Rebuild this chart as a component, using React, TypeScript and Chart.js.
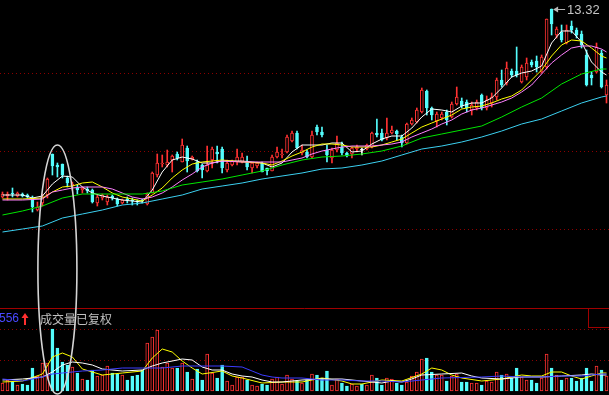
import { useEffect, useRef } from 'react';
import { Chart, registerables } from 'chart.js';

Chart.register(...registerables);

const W = 609;
const H = 395;
const UP = '#ff3232';
const DOWN = '#54fcfc';
const DOJI = '#ffffff';

const open = [9.56, 9.58, 9.64, 9.58, 9.62, 9.60, 9.54, 9.30, 9.44, 9.60,
  10.42, 10.20, 10.22, 9.94, 9.78, 9.74, 9.70, 9.72, 9.70, 9.44,
  9.54, 9.46, 9.58, 9.52, 9.44, 9.52, 9.50, 9.48, 9.50, 9.42,
  9.64, 10.00, 10.22, 10.20, 10.30, 10.42, 10.26, 10.54, 10.32, 10.26,
  10.20, 10.08, 10.30, 10.46, 10.52, 10.10, 10.20, 10.26, 10.26, 10.26,
  10.14, 10.18, 10.24, 10.14, 10.08, 10.36, 10.40, 10.46, 10.68, 10.84,
  10.44, 10.46, 10.36, 10.96, 10.86, 10.50, 10.34, 10.50, 10.56, 10.44,
  10.42, 10.52, 10.50, 10.52, 10.56, 10.84, 10.84, 10.74, 10.84, 10.88,
  10.76, 10.64, 11.02, 11.06, 11.26, 11.68, 11.34, 11.08, 11.14, 11.26,
  11.16, 11.42, 11.48, 11.46, 11.30, 11.34, 11.60, 11.34, 11.44, 11.56,
  11.90, 11.84, 12.08, 12.08, 11.86, 11.96, 12.26, 12.28, 12.06, 12.16,
  13.32, 12.80, 12.86, 12.64, 12.98, 12.90, 12.82, 12.40, 12.00, 12.06,
  12.44, 11.60];
const high = [9.66, 9.66, 9.74, 9.66, 9.64, 9.62, 9.58, 9.46, 9.62, 9.94,
  10.42, 10.24, 10.22, 9.98, 9.86, 9.80, 9.76, 9.76, 9.72, 9.60,
  9.62, 9.60, 9.60, 9.54, 9.52, 9.56, 9.54, 9.50, 9.52, 9.64,
  10.06, 10.42, 10.40, 10.50, 10.40, 10.46, 10.72, 10.58, 10.38, 10.30,
  10.22, 10.58, 10.56, 10.58, 10.56, 10.30, 10.30, 10.52, 10.44, 10.38,
  10.24, 10.26, 10.26, 10.14, 10.40, 10.56, 10.52, 10.80, 10.88, 10.88,
  10.60, 10.50, 10.88, 11.00, 10.96, 10.60, 10.54, 10.78, 10.66, 10.46,
  10.56, 10.60, 10.54, 10.62, 10.86, 11.12, 10.92, 11.14, 10.98, 10.90,
  10.80, 11.04, 11.14, 11.34, 11.74, 11.70, 11.36, 11.26, 11.26, 11.30,
  11.46, 11.76, 11.54, 11.50, 11.46, 11.50, 11.62, 11.58, 11.64, 11.94,
  12.10, 12.26, 12.12, 12.56, 12.20, 12.34, 12.30, 12.38, 12.40, 13.12,
  13.32, 12.96, 13.00, 13.00, 13.08, 12.94, 12.88, 12.50, 12.06, 12.64,
  12.50, 11.90];
const low = [9.54, 9.50, 9.56, 9.56, 9.56, 9.54, 9.26, 9.28, 9.38, 9.54,
  10.00, 9.96, 9.94, 9.76, 9.70, 9.62, 9.64, 9.64, 9.44, 9.38,
  9.50, 9.40, 9.50, 9.38, 9.42, 9.44, 9.40, 9.40, 9.44, 9.40,
  9.64, 9.96, 10.16, 10.16, 10.06, 10.30, 10.26, 10.06, 10.30, 10.06,
  9.94, 10.06, 10.14, 10.24, 10.04, 10.06, 10.18, 10.20, 10.24, 10.10,
  10.04, 10.14, 10.06, 10.00, 10.08, 10.34, 10.34, 10.44, 10.66, 10.52,
  10.40, 10.34, 10.34, 10.80, 10.76, 10.26, 10.24, 10.46, 10.40, 10.36,
  10.34, 10.46, 10.40, 10.50, 10.54, 10.76, 10.68, 10.70, 10.82, 10.70,
  10.56, 10.62, 11.00, 11.04, 11.24, 11.20, 11.10, 10.96, 11.10, 11.00,
  11.14, 11.40, 11.34, 11.26, 11.20, 11.30, 11.30, 11.30, 11.36, 11.50,
  11.76, 11.80, 11.96, 11.96, 11.84, 11.90, 12.16, 12.06, 12.04, 12.12,
  12.80, 12.74, 12.66, 12.62, 12.84, 12.74, 12.54, 11.78, 11.80, 12.04,
  11.74, 11.44];
const close = [9.62, 9.62, 9.62, 9.64, 9.58, 9.56, 9.36, 9.36, 9.56, 9.92,
  10.18, 10.16, 10.00, 9.84, 9.82, 9.70, 9.74, 9.68, 9.46, 9.56,
  9.60, 9.56, 9.54, 9.42, 9.50, 9.50, 9.48, 9.46, 9.48, 9.62,
  10.04, 10.24, 10.24, 10.26, 10.38, 10.34, 10.60, 10.28, 10.36, 10.08,
  10.10, 10.20, 10.52, 10.42, 10.14, 10.24, 10.28, 10.36, 10.36, 10.16,
  10.24, 10.24, 10.06, 10.08, 10.36, 10.46, 10.42, 10.76, 10.84, 10.54,
  10.50, 10.36, 10.80, 10.86, 10.80, 10.40, 10.50, 10.64, 10.44, 10.38,
  10.54, 10.56, 10.50, 10.60, 10.84, 10.80, 10.70, 10.84, 10.90, 10.82,
  10.64, 11.02, 11.10, 11.30, 11.70, 11.34, 11.20, 11.22, 11.22, 11.10,
  11.42, 11.56, 11.38, 11.34, 11.40, 11.46, 11.34, 11.50, 11.56, 11.90,
  11.80, 12.14, 12.00, 12.00, 12.16, 12.24, 12.20, 12.16, 12.36, 13.12,
  13.02, 12.92, 12.70, 12.90, 12.90, 12.80, 12.60, 11.80, 11.94, 12.56,
  11.76, 11.80];
const volume = [80, 110, 90, 60, 70, 60, 230, 150, 280, 280,
  620, 430, 290, 260, 240, 180, 120, 110, 210, 150,
  160, 250, 180, 170, 160, 110, 150, 160, 210, 480,
  540, 610, 240, 280, 230, 230, 280, 190, 120, 220,
  110, 370, 180, 130, 260, 100, 60, 140, 140, 110,
  60, 50, 70, 60, 120, 140, 70, 160, 120, 100,
  80, 110, 170, 160, 130, 200, 60, 120, 80, 50,
  70, 50, 70, 60, 160, 130, 60, 130, 120, 80,
  60, 90, 150, 190, 320, 330, 190, 160, 160, 100,
  150, 170, 90, 90, 80, 80, 60, 100, 90, 190,
  160, 170, 130, 230, 140, 110, 110, 80, 130, 370,
  230, 160, 110, 130, 130, 100, 130, 230, 100, 250,
  210, 150];

// moving-average readings: [candle index, value]
const ma5Pts = [[0, 9.60], [2, 9.60], [4, 9.60], [6, 9.54], [8, 9.58], [10, 9.82], [12, 9.98], [14, 9.96], [16, 9.76], [18, 9.64], [20, 9.58], [22, 9.54], [24, 9.50], [26, 9.48], [28, 9.46], [30, 9.70], [32, 10.06], [34, 10.30], [36, 10.36], [38, 10.32], [40, 10.24], [42, 10.24], [44, 10.28], [46, 10.28], [48, 10.28], [50, 10.26], [52, 10.24], [54, 10.16], [56, 10.24], [58, 10.46], [60, 10.60], [62, 10.60], [64, 10.60], [66, 10.64], [68, 10.64], [70, 10.46], [72, 10.48], [74, 10.62], [76, 10.72], [78, 10.78], [80, 10.78], [82, 10.94], [84, 11.16], [86, 11.32], [88, 11.30], [90, 11.26], [92, 11.38], [94, 11.44], [96, 11.44], [98, 11.54], [100, 11.74], [102, 11.96], [104, 12.04], [106, 12.08], [108, 12.18], [110, 12.64], [112, 12.88], [114, 12.88], [116, 12.66], [118, 12.26], [120, 12.06], [121, 12.00]];
const ma10Pts = [[0, 9.52], [4, 9.52], [8, 9.54], [10, 9.66], [12, 9.76], [14, 9.78], [16, 9.84], [18, 9.86], [20, 9.76], [22, 9.64], [24, 9.56], [26, 9.52], [28, 9.48], [30, 9.60], [32, 9.74], [34, 9.94], [36, 10.10], [38, 10.22], [40, 10.26], [44, 10.30], [48, 10.26], [52, 10.24], [54, 10.20], [56, 10.28], [58, 10.38], [60, 10.46], [62, 10.56], [64, 10.62], [66, 10.62], [68, 10.60], [70, 10.56], [72, 10.56], [74, 10.56], [76, 10.60], [78, 10.66], [80, 10.72], [82, 10.84], [84, 10.96], [86, 11.04], [88, 11.12], [90, 11.20], [92, 11.32], [94, 11.36], [96, 11.38], [98, 11.44], [100, 11.52], [102, 11.58], [104, 11.70], [106, 11.90], [108, 12.10], [110, 12.38], [112, 12.60], [114, 12.70], [116, 12.68], [118, 12.54], [120, 12.38], [121, 12.34]];
const ma20Pts = [[0, 9.50], [4, 9.50], [8, 9.52], [10, 9.66], [12, 9.70], [14, 9.74], [16, 9.76], [20, 9.76], [22, 9.72], [24, 9.64], [26, 9.56], [28, 9.52], [30, 9.56], [32, 9.64], [34, 9.76], [36, 9.90], [38, 10.02], [40, 10.16], [42, 10.24], [44, 10.28], [48, 10.26], [52, 10.26], [56, 10.26], [58, 10.30], [60, 10.34], [62, 10.42], [64, 10.48], [66, 10.52], [68, 10.56], [70, 10.58], [74, 10.58], [78, 10.62], [80, 10.66], [82, 10.76], [84, 10.84], [86, 10.92], [88, 11.02], [90, 11.10], [92, 11.22], [94, 11.30], [96, 11.34], [98, 11.40], [100, 11.46], [102, 11.54], [104, 11.66], [106, 11.80], [108, 12.02], [110, 12.24], [112, 12.40], [114, 12.54], [116, 12.58], [118, 12.58], [120, 12.52], [121, 12.46]];
const ma60Pts = [[0, 9.20], [4, 9.28], [8, 9.38], [12, 9.54], [16, 9.62], [20, 9.62], [24, 9.62], [28, 9.62], [32, 9.68], [36, 9.80], [40, 9.86], [44, 9.92], [48, 10.00], [52, 10.08], [56, 10.20], [60, 10.30], [64, 10.36], [68, 10.38], [72, 10.42], [76, 10.48], [80, 10.58], [84, 10.74], [88, 10.82], [92, 10.90], [96, 10.98], [100, 11.16], [104, 11.36], [108, 11.54], [112, 11.82], [116, 12.02], [120, 12.12], [121, 12.12]];
const ma120Pts = [[0, 8.86], [4, 8.92], [8, 8.98], [12, 9.14], [16, 9.22], [20, 9.30], [24, 9.40], [28, 9.44], [32, 9.52], [36, 9.60], [40, 9.72], [44, 9.78], [48, 9.84], [52, 9.92], [56, 9.98], [60, 10.04], [64, 10.12], [68, 10.14], [72, 10.20], [76, 10.28], [80, 10.40], [84, 10.52], [88, 10.58], [92, 10.66], [96, 10.76], [100, 10.88], [104, 11.02], [108, 11.12], [112, 11.28], [116, 11.44], [120, 11.56], [121, 11.58]];
const vma5Pts = [[0, 90], [4, 100], [8, 170], [10, 340], [12, 380], [14, 340], [16, 220], [20, 160], [24, 180], [28, 200], [30, 330], [32, 420], [34, 390], [36, 300], [38, 230], [40, 170], [44, 200], [46, 150], [48, 130], [52, 80], [56, 90], [60, 90], [64, 130], [68, 100], [70, 70], [72, 70], [76, 110], [80, 100], [84, 170], [86, 230], [88, 210], [90, 160], [92, 130], [96, 100], [100, 120], [104, 160], [106, 150], [108, 150], [110, 190], [112, 190], [114, 150], [116, 120], [118, 150], [120, 180], [121, 180]];
const vma10Pts = [[0, 110], [4, 120], [8, 140], [10, 190], [12, 260], [14, 290], [16, 280], [18, 260], [20, 220], [24, 200], [28, 210], [30, 250], [32, 280], [36, 320], [38, 310], [40, 240], [42, 210], [44, 210], [46, 170], [48, 150], [50, 140], [52, 110], [54, 90], [56, 90], [60, 110], [64, 120], [68, 120], [72, 100], [76, 80], [78, 100], [80, 90], [82, 120], [84, 160], [88, 170], [92, 180], [94, 150], [96, 130], [100, 120], [104, 140], [108, 140], [112, 150], [116, 160], [118, 170], [120, 160], [121, 160]];
const vma20Pts = [[0, 120], [4, 100], [8, 140], [10, 170], [12, 180], [16, 200], [20, 210], [24, 230], [28, 230], [32, 230], [36, 250], [40, 250], [44, 250], [48, 240], [50, 200], [52, 160], [54, 140], [56, 130], [60, 130], [64, 110], [68, 110], [72, 100], [76, 100], [80, 90], [84, 110], [88, 130], [96, 140], [100, 150], [104, 140], [108, 140], [112, 150], [116, 150], [120, 170], [121, 170]];

const priceGrid = [12.04, 10.48, 8.92];
const volGridDotted = [620, 310];
const volPanelTop = 830;
const priceRange = [5.6, 13.5];
const volRange = [-40, 3910];
const volValueLabel = '556';
const volTitle = '成交量已复权';
const circledIndex = 11;

const days = open.map((_, i) => `D${i + 1}`);

function sparse(pts: number[][]) {
  const arr: (number | null)[] = new Array(open.length).fill(null);
  pts.forEach(([i, v]) => { arr[i] = v; });
  return arr;
}

const candleColor = open.map((o, i) => (close[i] > o ? UP : close[i] < o ? DOWN : DOJI));
const bodyFill = open.map((o, i) => (close[i] > o ? '#000000' : candleColor[i]));
const volColor = open.map((o, i) => (close[i] > o ? UP : DOWN));
const volFill = open.map((o, i) => (close[i] > o ? '#000000' : DOWN));

const overlay = {
  id: 'overlay',
  beforeDatasetsDraw(chart: any) {
    const { ctx, scales } = chart;
    const y = scales.y;
    const yv = scales.yv;
    ctx.save();
    ctx.lineWidth = 1;
    ctx.strokeStyle = '#8c0000';
    ctx.setLineDash([1, 3]);
    const hline = (py: number) => {
      const yy = Math.round(py) + 0.5;
      ctx.beginPath();
      ctx.moveTo(0, yy);
      ctx.lineTo(W, yy);
      ctx.stroke();
    };
    priceGrid.forEach((v) => hline(y.getPixelForValue(v)));
    volGridDotted.forEach((v) => hline(yv.getPixelForValue(v)));
    ctx.setLineDash([]);
    ctx.strokeStyle = '#a00000';
    const sep = Math.round(yv.getPixelForValue(volPanelTop)) + 0.5;
    ctx.beginPath();
    ctx.moveTo(0, sep);
    ctx.lineTo(W, sep);
    ctx.stroke();
    ctx.strokeRect(588.5, sep, 30, 19);
    ctx.restore();
  },
  afterDatasetsDraw(chart: any) {
    const { ctx, scales } = chart;
    const x = scales.x;
    const y = scales.y;
    const yv = scales.yv;
    ctx.save();
    // volume panel header
    const sep = yv.getPixelForValue(volPanelTop);
    const ty = sep + 11;
    ctx.textBaseline = 'middle';
    ctx.font = '12px "Liberation Sans", Arial, sans-serif';
    ctx.fillStyle = '#4848ff';
    ctx.textAlign = 'left';
    ctx.fillText(volValueLabel, -1, ty);
    // red up arrow
    ctx.strokeStyle = '#ff3030';
    ctx.fillStyle = '#ff3030';
    ctx.lineWidth = 2;
    ctx.beginPath();
    ctx.moveTo(25, ty + 6);
    ctx.lineTo(25, ty - 2);
    ctx.stroke();
    ctx.beginPath();
    ctx.moveTo(21.5, ty - 1);
    ctx.lineTo(25, ty - 6);
    ctx.lineTo(28.5, ty - 1);
    ctx.closePath();
    ctx.fill();
    ctx.font = '12px "Noto Sans CJK SC", sans-serif';
    ctx.fillStyle = '#c0c0c0';
    ctx.fillText(volTitle, 40, ty);

    // highest price marker
    let hi = 0;
    high.forEach((h, i) => { if (h > high[hi]) hi = i; });
    const hx = x.getPixelForValue(hi) + 1.5;
    const hy = Math.round(y.getPixelForValue(high[hi])) + 0.5;
    ctx.strokeStyle = '#b8b8b8';
    ctx.fillStyle = '#b8b8b8';
    ctx.lineWidth = 1;
    ctx.beginPath();
    ctx.moveTo(hx + 2, hy);
    ctx.lineTo(hx + 12, hy);
    ctx.stroke();
    ctx.beginPath();
    ctx.moveTo(hx, hy);
    ctx.lineTo(hx + 5, hy - 3);
    ctx.lineTo(hx + 5, hy + 3);
    ctx.closePath();
    ctx.fill();
    ctx.font = '13px "Liberation Sans", Arial, sans-serif';
    ctx.fillStyle = '#c4c4c4';
    ctx.fillText(high[hi].toFixed(2), hx + 14, hy + 1);

    // hand-drawn ellipse annotation
    const cx = x.getPixelForValue(circledIndex);
    ctx.strokeStyle = '#d4d4d4';
    ctx.lineWidth = 1.6;
    ctx.beginPath();
    ctx.ellipse(cx, 269.5, 19.5, 124.5, 0, 0, Math.PI * 2);
    ctx.stroke();
    ctx.restore();
  },
};

function lineDs(pts: number[][], color: string, axis: string) {
  return {
    type: 'line' as const,
    data: sparse(pts),
    yAxisID: axis,
    borderColor: color,
    borderWidth: 1,
    pointRadius: 0,
    spanGaps: true,
    tension: 0,
    order: 1,
  };
}

export default function App() {
  const ref = useRef<HTMLCanvasElement | null>(null);
  useEffect(() => {
    document.body.style.margin = '0';
    document.body.style.background = '#000';
    const canvas = ref.current;
    if (!canvas) return;
    const chart = new Chart(canvas, {
      type: 'bar',
      data: {
        labels: days,
        datasets: [
          {
            type: 'bar',
            data: low.map((l, i) => [l, high[i]]),
            yAxisID: 'y',
            backgroundColor: candleColor,
            borderWidth: 0,
            barThickness: 1,
            grouped: false,
            order: 5,
          } as any,
          {
            type: 'bar',
            data: open.map((o, i) => [o, close[i]]),
            yAxisID: 'y',
            backgroundColor: bodyFill,
            borderColor: candleColor,
            borderWidth: 1,
            borderSkipped: false,
            barThickness: 3,
            minBarLength: 1,
            grouped: false,
            order: 4,
          } as any,
          {
            type: 'bar',
            data: volume,
            yAxisID: 'yv',
            backgroundColor: volFill,
            borderColor: volColor,
            borderWidth: 1,
            borderSkipped: false,
            barThickness: 3,
            grouped: false,
            order: 4,
          } as any,
          lineDs(ma120Pts, '#3cd0f0', 'y'),
          lineDs(ma60Pts, '#00e600', 'y'),
          lineDs(ma20Pts, '#ff80ff', 'y'),
          lineDs(ma10Pts, '#ffff00', 'y'),
          lineDs(ma5Pts, '#ffffff', 'y'),
          lineDs(vma20Pts, '#3c3cff', 'yv'),
          lineDs(vma10Pts, '#ffffff', 'yv'),
          lineDs(vma5Pts, '#ffff00', 'yv'),
        ],
      },
      options: {
        responsive: false,
        animation: false,
        devicePixelRatio: 1,
        events: [],
        layout: { padding: 0 },
        plugins: { legend: { display: false }, tooltip: { enabled: false } },
        scales: {
          x: { display: false, offset: true, grid: { display: false } },
          y: { display: false, min: priceRange[0], max: priceRange[1] },
          yv: { display: false, min: volRange[0], max: volRange[1] },
        },
      } as any,
      plugins: [overlay],
    });
    return () => chart.destroy();
  }, []);
  return (
    <div style={{ position: 'fixed', left: 0, top: 0, width: W, height: H, background: '#000' }}>
      <canvas ref={ref} width={W} height={H} style={{ display: 'block', width: W, height: H }} />
    </div>
  );
}
